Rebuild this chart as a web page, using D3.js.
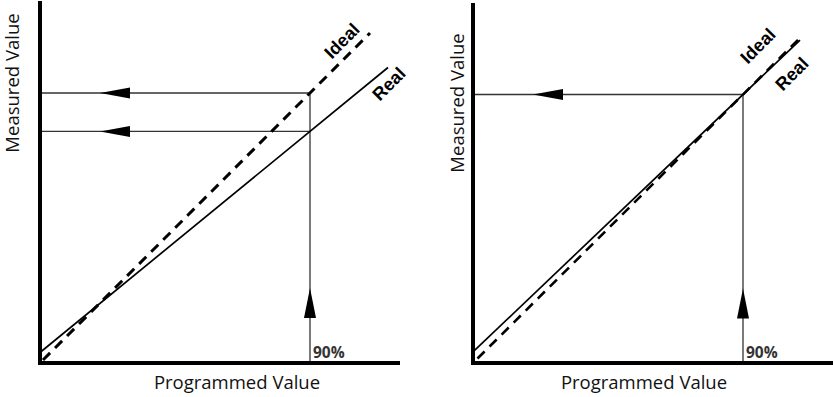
<!DOCTYPE html>
<html>
<head>
<meta charset="UTF-8">
<title>Ideal vs Real</title>
<script src="https://d3js.org/d3.v7.min.js"></script>
<style>
  body { margin: 0; background: #fff; }
  svg { display: block; }
</style>
</head>
<body>
<svg id="chart" width="833" height="397"></svg>
<script>
// programmed value (%) -> measured value (%)
var programmedPoint = 90;
var leftIdeal = [[1, 1], [110, 110]];
var leftReal = [[0, 3.5], [116, 98.5]];
var rightIdeal = [[1.5, 1.5], [110, 110]];
var rightReal = [[0, 3.7], [109, 108.2]];
var tickLabel = "90%";
var xTitle = "Programmed Value";
var yTitle = "Measured Value";

var svg = d3.select("#chart");

function panel(left, right, top, ideal, real, dashW, titleX) {
    var x = d3.scaleLinear().domain([0, 120]).range([left, right]);
    var y = d3.scaleLinear().domain([0, 120]).range([363, top]);
    var g = svg.append("g");
    var line = d3.line().x(function (d) { return x(d[0]); }).y(function (d) { return y(d[1]); });

    // measured value at 90% on each curve
    var interp = function (pts, v) {
        var a = pts[0], b = pts[1];
        return a[1] + (b[1] - a[1]) * (v - a[0]) / (b[0] - a[0]);
    };
    var hIdeal = interp(ideal, programmedPoint);
    var hReal = interp(real, programmedPoint);
    var levels = Math.abs(hIdeal - hReal) > 1 ? [hIdeal, hReal] : [hIdeal];
    var topLevel = d3.max(levels);

    // guide lines
    levels.forEach(function (v) {
        g.append("line")
            .attr("x1", x(0)).attr("x2", x(programmedPoint))
            .attr("y1", y(v)).attr("y2", y(v))
            .attr("stroke", "#333").attr("stroke-width", 1.3);
        // left arrow head
        var tx = x(20), ty = y(v);
        g.append("path")
            .attr("d", "M" + tx + "," + ty + "L" + (tx + 30) + "," + (ty - 5.5) + "L" + (tx + 30) + "," + (ty + 5.5) + "Z")
            .attr("fill", "#000");
    });
    g.append("line")
        .attr("x1", x(programmedPoint)).attr("x2", x(programmedPoint))
        .attr("y1", y(topLevel)).attr("y2", y(0))
        .attr("stroke", "#333").attr("stroke-width", 1.3);
    var ax = x(programmedPoint), ay = y(25);
    g.append("path")
        .attr("d", "M" + ax + "," + ay + "L" + (ax - 6) + "," + (ay + 30) + "L" + (ax + 6) + "," + (ay + 30) + "Z")
        .attr("fill", "#000");

    // curves
    g.append("path").attr("d", line(ideal))
        .attr("fill", "none").attr("stroke", "#000")
        .attr("stroke-width", dashW).attr("stroke-dasharray", "10,7");
    g.append("path").attr("d", line(real))
        .attr("fill", "none").attr("stroke", "#000").attr("stroke-width", 1.7);

    // axes
    g.append("line")
        .attr("x1", x(0)).attr("x2", x(0)).attr("y1", y(120) - 2).attr("y2", y(0) + 2)
        .attr("stroke", "#000").attr("stroke-width", 4);
    g.append("line")
        .attr("x1", x(0) - 2).attr("x2", x(120)).attr("y1", y(0)).attr("y2", y(0))
        .attr("stroke", "#000").attr("stroke-width", 4);

    g.append("text")
        .attr("x", x(programmedPoint) + 3).attr("y", y(0) - 5)
        .attr("font-family", "Open Sans").attr("font-weight", "bold")
        .attr("font-size", 15.5).attr("fill", "#333")
        .text(tickLabel);

    g.append("text")
        .attr("x", titleX).attr("y", 389)
        .attr("text-anchor", "middle")
        .attr("font-family", "Open Sans").attr("font-size", 18.5).attr("fill", "#111")
        .text(xTitle);

    return { g: g, x: x, y: y };
}

var p1 = panel(40, 400, 3, leftIdeal, leftReal, 3, 237);
var p2 = panel(473, 833, 5, rightIdeal, rightReal, 2.6, 644);

function label(txt, cx, cy) {
    svg.append("text")
        .attr("transform", "translate(" + cx + "," + cy + ") rotate(-45)")
        .attr("text-anchor", "middle").attr("dominant-baseline", "central")
        .attr("font-family", "Liberation Sans").attr("font-weight", "bold")
        .attr("font-size", 18).attr("fill", "#000")
        .text(txt);
}
label("Ideal", 342, 41);
label("Real", 389, 84);
label("Ideal", 758, 46);
label("Real", 792, 74);

function yLabel(cx, cy) {
    svg.append("text")
        .attr("transform", "translate(" + cx + "," + cy + ") rotate(-90)")
        .attr("text-anchor", "middle")
        .attr("font-family", "Open Sans").attr("font-size", 18.5).attr("fill", "#111")
        .text(yTitle);
}
yLabel(19, 83);
yLabel(464, 103);
</script>
</body>
</html>
